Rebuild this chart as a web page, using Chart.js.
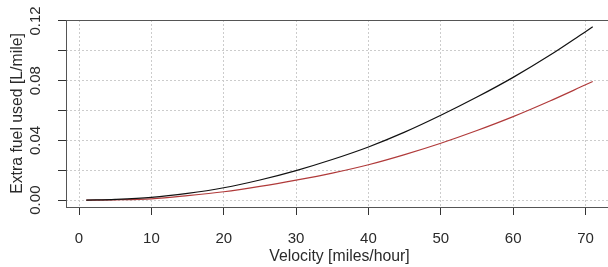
<!DOCTYPE html>
<html>
<head>
<meta charset="utf-8">
<script src="https://cdn.jsdelivr.net/npm/chart.js@4/dist/chart.umd.min.js"></script>
<style>
  html, body { margin: 0; padding: 0; overflow: hidden; background: #fff; }
  #wrap { width: 613px; height: 267px; }
</style>
</head>
<body>
<div id="wrap"><canvas id="chart"></canvas></div>
<script>
// data
const velocity  = [1, 5, 10, 15, 20, 25, 30, 35, 40, 45, 50, 55, 60, 65, 70, 71];
const fuelBlack = [0.0000, 0.0005, 0.0018, 0.0045, 0.0083, 0.0135, 0.0198, 0.0272, 0.0356, 0.0455, 0.0568, 0.0690, 0.0822, 0.0968, 0.1128, 0.1160];
const fuelRed   = [0.0000, 0.0002, 0.0009, 0.0030, 0.0056, 0.0092, 0.0134, 0.0181, 0.0237, 0.0305, 0.0381, 0.0466, 0.0559, 0.0662, 0.0772, 0.0794];
const xTicks  = [0, 10, 20, 30, 40, 50, 60, 70];
const yTicks  = [0, 0.02, 0.04, 0.06, 0.08, 0.10, 0.12];
const yLabels = [0, 0.04, 0.08, 0.12];

const FONT = "'Liberation Sans', Arial, sans-serif";
const TEXT = "#2a2a2a";

const toPoints = ys => velocity.map((v, i) => ({ x: v, y: ys[i] }));

// box around plot + rotated y labels, like base R
const rStyle = {
  id: "rStyle",
  afterDatasetsDraw(chart) {
    const { ctx, chartArea: a } = chart;
    ctx.save();
    ctx.strokeStyle = "#555";
    ctx.lineWidth = 1;
    ctx.strokeRect(Math.round(a.left) + 0.5, Math.round(a.top) + 0.5, a.right - a.left, Math.round(a.bottom - a.top));
    ctx.restore();
  },
  afterDraw(chart) {
    const { ctx } = chart;
    const y = chart.scales.y;
    ctx.save();
    ctx.fillStyle = TEXT;
    ctx.font = "15px " + FONT;
    ctx.textAlign = "center";
    ctx.textBaseline = "middle";
    yLabels.forEach(v => {
      ctx.save();
      ctx.translate(35.5, y.getPixelForValue(v));
      ctx.rotate(-Math.PI / 2);
      ctx.fillText(v.toFixed(2), 0, 0);
      ctx.restore();
    });
    ctx.restore();
  }
};

new Chart(document.getElementById("chart"), {
  type: "line",
  data: {
    datasets: [
      { data: toPoints(fuelBlack), borderColor: "#111", borderWidth: 1.2, pointRadius: 0, cubicInterpolationMode: "monotone" },
      { data: toPoints(fuelRed), borderColor: "#b03a3a", borderWidth: 1.2, pointRadius: 0, cubicInterpolationMode: "monotone" }
    ]
  },
  options: {
    responsive: true,
    maintainAspectRatio: false,
    animation: false,
    layout: { padding: { top: 20, right: 0, bottom: 0, left: 0 } },
    plugins: { legend: { display: false }, tooltip: { enabled: false } },
    scales: {
      x: {
        type: "linear",
        min: -1.8,
        max: 73.8,
        afterBuildTicks: s => { s.ticks = xTicks.map(v => ({ value: v })); },
        afterFit: s => { s.height = 60; },
        border: { display: false, dash: [2, 2] },
        grid: { color: "#ccc", tickColor: "#333", tickLength: 8, tickBorderDash: [] },
        ticks: { color: TEXT, font: { family: FONT, size: 15 }, padding: 15, maxRotation: 0 },
        title: { display: true, text: "Velocity [miles/hour]", color: TEXT, font: { family: FONT, size: 15.8 }, padding: { top: 0, bottom: 1 } }
      },
      y: {
        min: -0.0046,
        max: 0.1206,
        afterBuildTicks: s => { s.ticks = yTicks.map(v => ({ value: v })); },
        afterFit: s => { s.width = 66; },
        border: { display: false, dash: [2, 2] },
        grid: { color: "#ccc", tickColor: "#333", tickLength: 8, tickBorderDash: [] },
        ticks: { display: false },
        title: { display: true, text: "Extra fuel used [L/mile]", color: TEXT, font: { family: FONT, size: 15.8 }, padding: { top: 8, bottom: 0 } }
      }
    }
  },
  plugins: [rStyle]
});
</script>
</body>
</html>
